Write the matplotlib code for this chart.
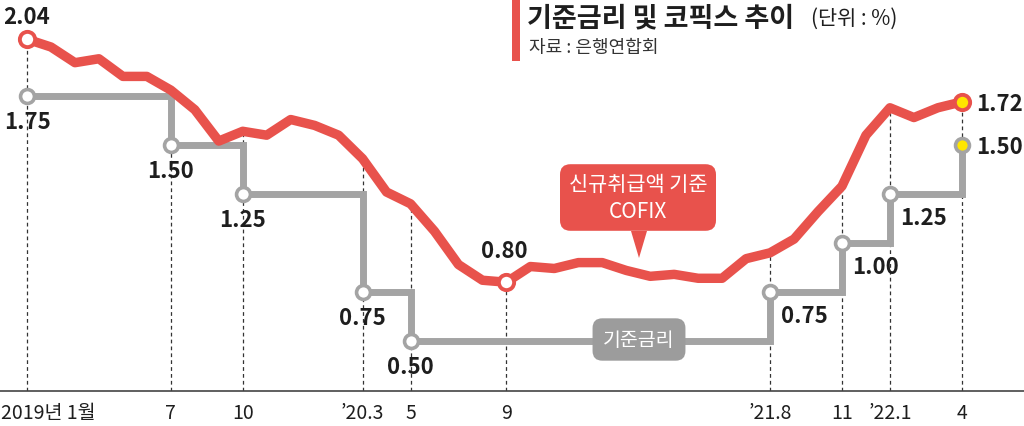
import matplotlib
matplotlib.use('Agg')
import matplotlib.pyplot as plt
from matplotlib.patches import Rectangle, Polygon
from matplotlib import transforms

plt.rcParams['font.family'] = ['Noto Sans CJK KR', 'DejaVu Sans']

# ---------------- data ----------------
month_index = list(range(40))          # 2019.1 ... 2022.4
cofix = [2.04, 2.00, 1.92, 1.94, 1.85, 1.85, 1.78, 1.68, 1.52, 1.57,
         1.55, 1.63, 1.60, 1.55, 1.43, 1.26, 1.20, 1.06, 0.89, 0.81,
         0.80, 0.88, 0.87, 0.90, 0.90, 0.86, 0.83, 0.84, 0.82, 0.82,
         0.92, 0.95, 1.02, 1.16, 1.29, 1.55, 1.69, 1.64, 1.69, 1.72]
base_rate = [1.75, 1.75, 1.75, 1.75, 1.75, 1.75, 1.50, 1.50, 1.50, 1.25,
             1.25, 1.25, 1.25, 1.25, 0.75, 0.75, 0.50, 0.50, 0.50, 0.50,
             0.50, 0.50, 0.50, 0.50, 0.50, 0.50, 0.50, 0.50, 0.50, 0.50,
             0.50, 0.75, 0.75, 0.75, 1.00, 1.00, 1.25, 1.25, 1.25, 1.50]
tick_months = [0, 6, 9, 14, 16, 20, 31, 34, 36, 39]
tick_labels = ['2019년 1월', '7', '10', '’20.3', '5', '9', '’21.8', '11', '’22.1', '4']
cofix_marked = [0, 20, 39]

title = '기준금리 및 코픽스 추이'
unit = '(단위 : %)'
source = '자료 : 은행연합회'
cofix_name = '신규취급액 기준\nCOFIX'
base_name = '기준금리'

# ---------------- style ----------------
RED = '#E8524C'
GRAY = '#A4A4A4'
BOXGRAY = '#9C9C9C'
YELLOW = '#FFE600'
TXT = '#1E1E1E'

W, H = 1024, 427
fig = plt.figure(figsize=(W / 100, H / 100), dpi=100)
fig.patch.set_facecolor('white')

# pixel geometry of the plotting frame
X0, DX = 27.0, 23.97          # px of first month, px per month
Y0, DY = 440.0, 196.0         # px of value 0, px per 1.0
AXIS_Y = 392.0
ax = fig.add_axes([0, (H - AXIS_Y) / H, 1, AXIS_Y / H])
ax.set_xlim(-X0 / DX, (W - X0) / DX)
ax.set_ylim((Y0 - AXIS_Y) / DY, Y0 / DY)
ax.set_facecolor('none')

def px2data(px, py):
    return (px - X0) / DX, (Y0 - py) / DY

for s in ['left', 'right', 'top']:
    ax.spines[s].set_visible(False)
ax.spines['bottom'].set_color('#444444')
ax.spines['bottom'].set_linewidth(1.2)
ax.set_yticks([])
ax.set_xticks(tick_months)
ax.set_xticklabels(tick_labels, fontsize=14, color=TXT)
ax.tick_params(axis='x', length=0, pad=8)
first = ax.get_xticklabels()[0]
first.set_horizontalalignment('left')
first.set_transform(first.get_transform() +
                    transforms.ScaledTranslation(-26 / 100, 0, fig.dpi_scale_trans))

ybot = ax.get_ylim()[0]
# dotted guide lines
for m in tick_months:
    ax.vlines(m, ybot, cofix[m], colors='#333333', linewidth=0.9,
              linestyles=(0, (3, 2.5)), zorder=1)

# base rate step line
ax.plot(month_index, base_rate, drawstyle='steps-post', color=GRAY, lw=5,
        solid_joinstyle='miter', zorder=2)
# cofix line
ax.plot(month_index, cofix, color=RED, lw=6.8, solid_joinstyle='round',
        solid_capstyle='round', zorder=3)

# base-rate change markers and labels
changes = [0] + [i for i in range(1, len(base_rate)) if base_rate[i] != base_rate[i - 1]]
for i in changes:
    last = i == month_index[-1]
    ax.plot(i, base_rate[i], 'o', ms=10, mfc=YELLOW if last else 'white',
            mec=GRAY, mew=2.6, zorder=5, clip_on=False)
    if last:
        off, ha = (14, -2), 'left'
    elif i > 0 and base_rate[i] > base_rate[i - 1]:
        off, ha = (34, -24), 'center'
    else:
        off, ha = (0, -26), 'center'
    ax.annotate(f'{base_rate[i]:.2f}', (i, base_rate[i]), xytext=off,
                textcoords='offset pixels', ha=ha, va='center',
                fontsize=16, fontweight='bold', color=TXT, zorder=8)

# cofix markers and labels
cofix_offsets = {0: ((0, 23), 'center'), 20: ((-2, 32), 'center'), 39: ((14, -2), 'left')}
for i in cofix_marked:
    last = i == month_index[-1]
    ax.plot(i, cofix[i], 'o', ms=11, mfc=YELLOW if last else 'white',
            mec=RED, mew=2.8, zorder=6, clip_on=False)
    off, ha = cofix_offsets[i]
    ax.annotate(f'{cofix[i]:.2f}', (i, cofix[i]), xytext=off,
                textcoords='offset pixels', ha=ha, va='center',
                fontsize=16, fontweight='bold', color=TXT, zorder=8)

# callout boxes
cx, cy = px2data(638, 198.5)
ax.text(cx, cy, cofix_name, ha='center', va='center', color='white',
        fontsize=15, linespacing=1.3, zorder=9,
        bbox=dict(boxstyle='round,pad=0.42,rounding_size=0.5', fc=RED, ec='none'))
tri = [px2data(631, 232), px2data(647, 232), px2data(639, 259)]
ax.add_patch(Polygon(tri, closed=True, fc=RED, ec='none', zorder=9))

gx, gy = px2data(639, 340.5)
ax.text(gx, gy, base_name, ha='center', va='center', color='white',
        fontsize=14, zorder=9,
        bbox=dict(boxstyle='round,pad=0.55,rounding_size=0.5', fc=BOXGRAY, ec='none'))

# header
fig.patches.append(Rectangle((512 / W, 1 - 62 / H), 8 / W, 62 / H,
                             transform=fig.transFigure, fc=RED, ec='none'))
fig.text(527 / W, 1 - 18 / H, title, fontsize=19.5, fontweight='bold',
         color=TXT, ha='left', va='center')
fig.text(811 / W, 1 - 19 / H, unit, fontsize=15, color=TXT, ha='left', va='center')
fig.text(529 / W, 1 - 48 / H, source, fontsize=13, color='#333333',
         ha='left', va='center')

fig.savefig('out.png', dpi=100, facecolor='white')
